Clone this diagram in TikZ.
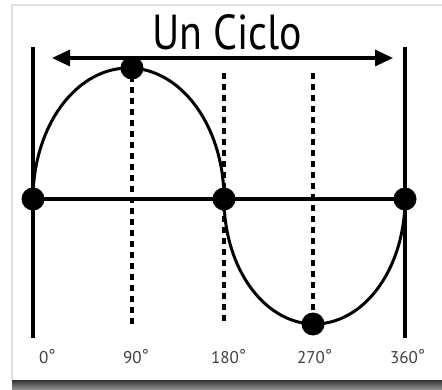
\documentclass[tikz,border=0pt]{standalone}
\usepackage{fontspec}
\setmainfont{PT Sans}
\usetikzlibrary{arrows.meta}
\newcommand\degs{\raisebox{2pt}{°}}
\tikzset{
  dotnode/.style={circle,fill=black,minimum size=23pt,inner sep=0pt},
  thickline/.style={line width=3.3pt,black},
  curveline/.style={line width=3pt,black},
  lbl/.style={inner sep=0pt,text=black!75,font=\fontsize{17}{18}\selectfont},
}
\begin{document}
\begin{tikzpicture}[x=1pt,y=-1pt]
\useasboundingbox (0,0) rectangle (442,390);
% panel
\fill[white] (0,0) rectangle (442,390);
\draw[black!12,line width=1.5pt] (12,380) -- (12,5) -- (442,5);
\shade[top color=black!80,bottom color=black!40] (12,380) rectangle (442,390);
% title
\node[inner sep=0pt,anchor=base west] (title) at (152,50) {\resizebox{150pt}{35pt}{Un Ciclo}};
% coordinates
\coordinate (ltop) at (33,47);
\coordinate (lbot) at (33,338);
\coordinate (rtop) at (405,47);
\coordinate (rbot) at (405,338);
\coordinate (aL) at (52,58);
\coordinate (aR) at (393,58);
% curves
\draw[curveline] plot[smooth,samples=120,domain=180:0] ({128.5+95.5*cos(\x)},{199-131*sin(\x)});
\draw[curveline] plot[smooth,samples=120,domain=180:360] ({314.5+90.5*cos(\x)},{199-125*sin(\x)});
% dashed guides
\foreach \gx/\gt in {132/76,224/73,313/73}{
  \foreach \k [evaluate=\k as \gy using \gt+11*\k] in {0,...,22}{
    \fill[black] (\gx-1.7,\gy) rectangle (\gx+1.7,\gy+6);
  }
}
% verticals
\draw[thickline] (ltop) -- (lbot);
\draw[thickline] (rtop) -- (rbot);
% arrow
\draw[thickline,{Triangle[length=18pt,width=16pt]}-{Triangle[length=18pt,width=16pt]}] (aL) -- (aR);
% dots
\node[dotnode] (p0) at (33,199) {};
\node[dotnode] (p90) at (132,68) {};
\node[dotnode] (p180) at (224,199) {};
\node[dotnode] (p270) at (313,324) {};
\node[dotnode] (p360) at (405,199) {};
\draw[thickline] (p0.center) -- (p360.center);
% labels
\node[lbl,anchor=base west] (l0) at (39,363) {0\degs};
\node[lbl,anchor=base west] (l90) at (123,363) {90\degs};
\node[lbl,anchor=base west] (l180) at (211,363) {180\degs};
\node[lbl,anchor=base west] (l270) at (297,363) {270\degs};
\node[lbl,anchor=base west] (l360) at (390,363) {360\degs};
\end{tikzpicture}
\end{document}
